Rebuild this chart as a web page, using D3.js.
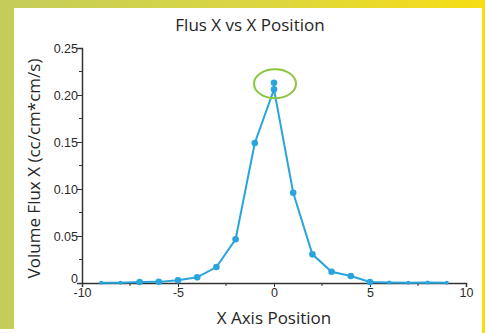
<!DOCTYPE html>
<html>
<head>
<meta charset="utf-8">
<script src="https://cdn.jsdelivr.net/npm/d3@7"></script>
<style>
  body { margin: 0; }
  svg { display: block; }
  .tick-label { font-family: "Liberation Sans", Arial, sans-serif; font-size: 12.5px; fill: #2b2b2b; }
  .title { font-family: "Open Sans", sans-serif; font-size: 17px; fill: #262626; }
</style>
</head>
<body>
<svg class="flux-chart"></svg>
<script>
const width = 485;
const height = 333;

// positions along x and measured flux
const xPositions = [-9, -8, -7, -6, -5, -4, -3, -2, -1, 0, 1, 2, 3, 4, 5, 6, 7, 8, 9];
const fluxValues = [0.0002, 0.0003, 0.001, 0.0012, 0.003, 0.006, 0.017, 0.0465, 0.149, 0.206,
                    0.096, 0.0305, 0.012, 0.0074, 0.001, 0.0005, 0.0002, 0.0005, 0.0002];

// second reading at the centre (circled)
const peakX = [0];
const peakFlux = [0.213];

const xTicks = [-10, -5, 0, 5, 10];
const xMinorTicks = [-7.5, -2.5, 2.5, 7.5];
const yTicks = [0, 0.05, 0.10, 0.15, 0.20, 0.25];
const yMinorTicks = [0.025, 0.075, 0.125, 0.175, 0.225];

const svg = d3.select('svg.flux-chart')
    .attr('width', width)
    .attr('height', height);

// border gradient
const grad = svg.append('defs').append('linearGradient')
    .attr('id', 'border')
    .attr('x1', '0%').attr('x2', '100%');
grad.append('stop').attr('offset', '0%').attr('stop-color', '#c4cd5a');
grad.append('stop').attr('offset', '55%').attr('stop-color', '#dcd640');
grad.append('stop').attr('offset', '100%').attr('stop-color', '#f7dd14');

svg.append('rect').attr('width', width).attr('height', height).attr('fill', 'url(#border)');
svg.append('rect').attr('x', 14).attr('y', 8).attr('width', 468).attr('height', height - 8).attr('fill', '#fff');
svg.append('rect').attr('x', 0).attr('y', 329).attr('width', 14).attr('height', 4).attr('fill', '#fff');

const x = d3.scaleLinear().domain([-10, 10]).range([82, 466]);
const y = d3.scaleLinear().domain([0, 0.25]).range([283, 48]);

// title
svg.append('text')
    .attr('class', 'title')
    .attr('x', 250)
    .attr('y', 31)
    .attr('text-anchor', 'middle')
    .text('Flus X vs X Position');

// y axis
const yAxis = svg.append('g').attr('transform', `translate(${x(-10)},0)`);
yAxis.call(d3.axisLeft(y).tickValues(yTicks).tickSize(5)
    .tickFormat(d => d === 0 ? '0' : d3.format('.2f')(d)));
yAxis.selectAll('.minor')
    .data(yMinorTicks)
    .join('line')
    .attr('class', 'minor')
    .attr('x1', -3).attr('x2', 0)
    .attr('y1', d => y(d)).attr('y2', d => y(d))
    .attr('stroke', '#333');

// x axis
const xAxis = svg.append('g').attr('transform', `translate(0,${y(0)})`);
xAxis.call(d3.axisBottom(x).tickValues(xTicks).tickSize(4).tickFormat(d => String(d)));
xAxis.selectAll('.minor')
    .data(xMinorTicks)
    .join('line')
    .attr('class', 'minor')
    .attr('x1', d => x(d)).attr('x2', d => x(d))
    .attr('y1', 0).attr('y2', 3)
    .attr('stroke', '#333');

[xAxis, yAxis].forEach(a => {
    a.select('.domain').attr('stroke', '#333').attr('stroke-width', 1.5);
    a.selectAll('.tick line').attr('stroke', '#333');
    a.selectAll('.tick text').attr('class', 'tick-label');
});
xAxis.selectAll('.tick text').attr('y', 5).attr('dy', '0.71em');
yAxis.selectAll('.tick text').attr('x', -4);
// zero label sits just above the x axis
yAxis.selectAll('.tick').filter(d => d === 0).select('text').attr('dy', '-0.05em');

// axis titles
svg.append('text')
    .attr('class', 'title')
    .attr('x', x(0))
    .attr('y', 324)
    .attr('text-anchor', 'middle')
    .text('X Axis Position');

svg.append('text')
    .attr('class', 'title')
    .attr('transform', `translate(40,${(y(0) + y(0.25)) / 2 + 3})rotate(-90)`)
    .attr('text-anchor', 'middle')
    .text('Volume Flux X (cc/cm*cm/s)');

const points = xPositions.map((d, i) => ({ x: d, v: fluxValues[i] }));
const peak = peakX.map((d, i) => ({ x: d, v: peakFlux[i] }));
const blue = '#2aa5dc';

const line = d3.line().x(d => x(d.x)).y(d => y(d.v));

svg.append('path')
    .datum(points)
    .attr('d', line)
    .attr('fill', 'none')
    .attr('stroke', blue)
    .attr('stroke-width', 2);

// stub up to the second centre reading
svg.append('path')
    .datum([points.find(p => p.x === peakX[0]), peak[0]])
    .attr('d', line)
    .attr('fill', 'none')
    .attr('stroke', blue)
    .attr('stroke-width', 2);

svg.selectAll('circle.pt')
    .data(points.concat(peak))
    .join('circle')
    .attr('class', 'pt')
    .attr('cx', d => x(d.x))
    .attr('cy', d => y(d.v))
    .attr('r', d => d.v < 0.0008 ? 2 : 3.3)
    .attr('fill', blue);

// highlight round the peak
svg.append('ellipse')
    .attr('cx', x(peakX[0]) + 1)
    .attr('cy', y(peakFlux[0]) + 1)
    .attr('rx', 21)
    .attr('ry', 14.5)
    .attr('fill', 'none')
    .attr('stroke', '#8cc540')
    .attr('stroke-width', 2);
</script>
</body>
</html>
